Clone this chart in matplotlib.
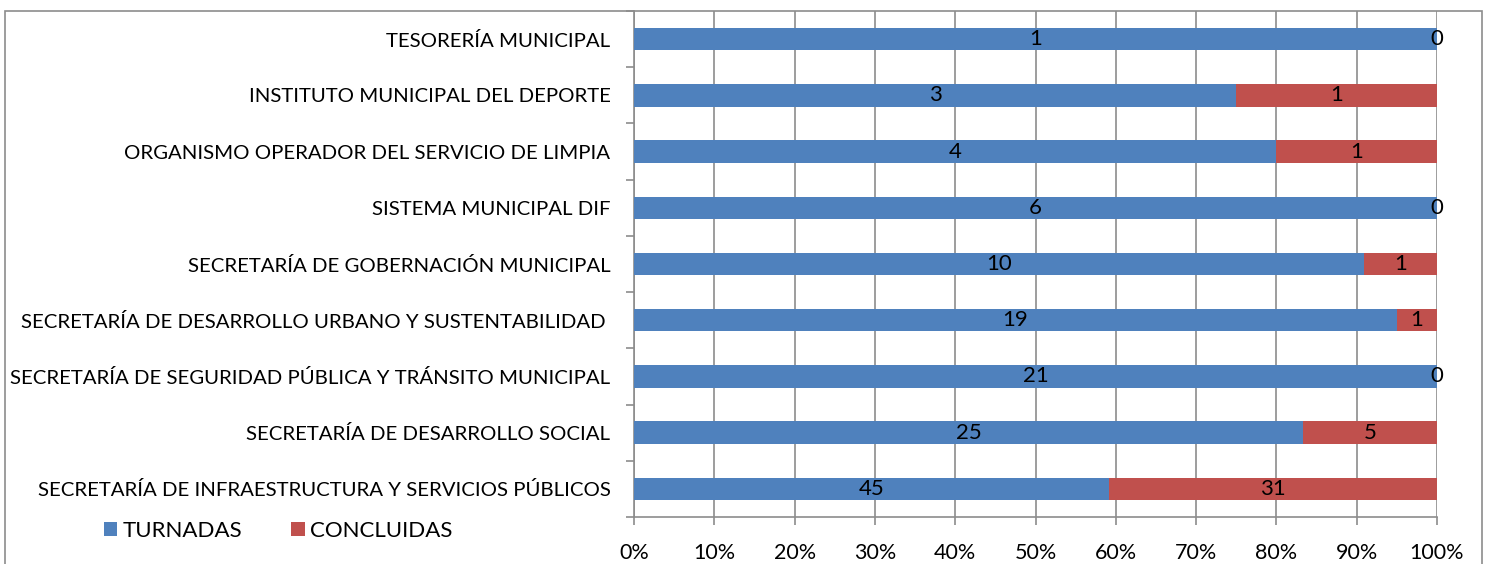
import matplotlib
matplotlib.use('Agg')
import matplotlib.pyplot as plt
from matplotlib.patches import Rectangle
from matplotlib.ticker import FixedLocator, PercentFormatter

plt.rcParams['font.family'] = ['Lato', 'DejaVu Sans']

# bottom to top, as drawn
areas = [
    'SECRETARÍA DE INFRAESTRUCTURA Y SERVICIOS PÚBLICOS',
    'SECRETARÍA DE DESARROLLO SOCIAL',
    'SECRETARÍA DE SEGURIDAD PÚBLICA Y TRÁNSITO MUNICIPAL',
    'SECRETARÍA DE DESARROLLO URBANO Y SUSTENTABILIDAD ',
    'SECRETARÍA DE GOBERNACIÓN MUNICIPAL',
    'SISTEMA MUNICIPAL DIF',
    'ORGANISMO OPERADOR DEL SERVICIO DE LIMPIA',
    'INSTITUTO MUNICIPAL DEL DEPORTE',
    'TESORERÍA MUNICIPAL',
]
turnadas = [45, 25, 21, 19, 10, 6, 4, 3, 1]
concluidas = [31, 5, 0, 1, 1, 0, 1, 1, 0]

blue = '#4F81BD'
red = '#C0504D'
grey = '#8C8C8C'

totals = [t + c for t, c in zip(turnadas, concluidas)]
t_pct = [t / s * 100 for t, s in zip(turnadas, totals)]
c_pct = [c / s * 100 for c, s in zip(concluidas, totals)]
ypos = list(range(len(areas)))

fig = plt.figure(figsize=(14.89, 5.64), dpi=100)
ax = fig.add_axes([634 / 1489, (564 - 517) / 564, (1437 - 634) / 1489, (517 - 11) / 564])

b1 = ax.barh(ypos, t_pct, height=0.4, color=blue, label='TURNADAS', zorder=3)
b2 = ax.barh(ypos, c_pct, left=t_pct, height=0.4, color=red, label='CONCLUIDAS', zorder=3)
ax.bar_label(b1, labels=[str(v) for v in turnadas], label_type='center', fontsize=16, zorder=4)
ax.bar_label(b2, labels=[str(v) for v in concluidas], label_type='center', fontsize=16, zorder=4)

ax.set_xlim(0, 100)
ax.set_ylim(-0.5, len(areas) - 0.5)
ax.set_xticks(range(0, 101, 10))
ax.xaxis.set_major_formatter(PercentFormatter(decimals=0))
ax.set_yticks(ypos)
ax.set_yticklabels(areas)
ax.yaxis.set_minor_locator(FixedLocator([i - 0.5 for i in range(len(areas) + 1)]))
ax.tick_params(axis='y', which='major', length=0, pad=17, labelsize=14.7)
ax.tick_params(axis='y', which='minor', length=6, color=grey, width=1.2)
ax.tick_params(axis='x', length=6, color=grey, width=1.2, pad=13, labelsize=15.5)
ax.grid(axis='x', color=grey, linewidth=1.2, zorder=0)
for s in ['top', 'right']:
    ax.spines[s].set_visible(False)
for s in ['left', 'bottom']:
    ax.spines[s].set_color(grey)
    ax.spines[s].set_linewidth(1.2)

ax.legend(loc='center left', bbox_to_anchor=(104 / 1489, (564 - 531) / 564),
          bbox_transform=fig.transFigure, ncol=2, frameon=False, fontsize=16,
          handlelength=0.6, handleheight=0.6, handletextpad=0.25, columnspacing=2.2,
          borderaxespad=0, borderpad=0)

fig.patches.append(Rectangle((5 / 1489, -0.1), (1482 - 5) / 1489, 1.1 - 11 / 564,
                             transform=fig.transFigure, fill=False, edgecolor=grey,
                             linewidth=1.2, clip_on=False))

fig.savefig('out.png', dpi=100)
